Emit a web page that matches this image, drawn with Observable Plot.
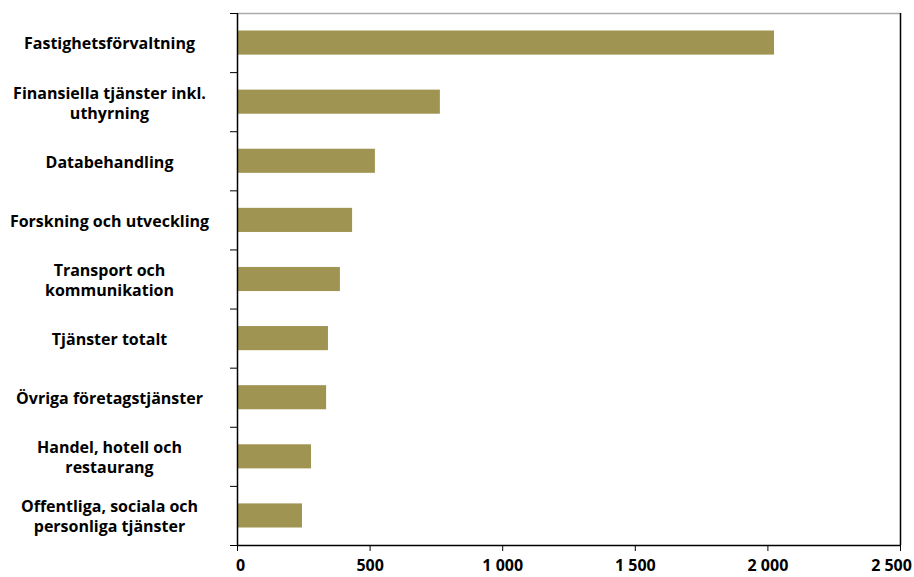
<!DOCTYPE html>
<html>
<head>
<meta charset="utf-8">
<script src="https://cdn.jsdelivr.net/npm/d3@7"></script>
<script src="https://cdn.jsdelivr.net/npm/@observablehq/plot@0.6"></script>
<style>
  html, body { margin: 0; padding: 0; background: #fff; }
  #chart svg { display: block; }
</style>
</head>
<body>
<div id="chart"></div>
<script>
const categories = [
  "Fastighetsförvaltning",
  "Finansiella tjänster inkl.\nuthyrning",
  "Databehandling",
  "Forskning och utveckling",
  "Transport och\nkommunikation",
  "Tjänster totalt",
  "Övriga företagstjänster",
  "Handel, hotell och\nrestaurang",
  "Offentliga, sociala och\npersonliga tjänster"
];
const values = [2025, 765, 520, 434, 388, 343, 336, 279, 245];
const xTicks = [0, 500, 1000, 1500, 2000, 2500];

const data = categories.map((c, i) => ({ label: c, value: values[i], i0: i, i1: i + 1, mid: i + 0.5 }));
const boundaries = d3.range(0, categories.length + 1);

const fmt = d => d3.format(",")(d).replace(/,/g, " ");
const font = "'Open Sans', 'Noto Sans', sans-serif";

const chart = Plot.plot({
  width: 914,
  height: 577,
  marginLeft: 237,
  marginRight: 14,
  marginTop: 13,
  marginBottom: 32,
  style: { fontFamily: font, fontWeight: "bold", fontSize: "16px", color: "#000", background: "#fff", overflow: "visible" },
  x: { domain: [0, 2500] },
  y: { domain: [0, categories.length], reverse: true },
  marks: [
    Plot.rectX(data, { x1: 0, x2: "value", y1: "i0", y2: "i1", insetTop: 17.5, insetBottom: 17.5, fill: "#a09452" }),
    Plot.ruleY([0], { stroke: "#aaaaaa", strokeWidth: 1.5 }),
    Plot.ruleX([2500], { stroke: "#000", strokeWidth: 1.5 }),
    Plot.ruleX([0], { stroke: "#000", strokeWidth: 1.5 }),
    Plot.ruleY([categories.length], { stroke: "#000", strokeWidth: 1.5 }),
    Plot.axisX({ ticks: xTicks, tickFormat: () => "", tickSize: 6, label: null, stroke: "#000" }),
    Plot.axisX({ ticks: xTicks.slice(0, 1), tickSize: 0, tickFormat: fmt, tickPadding: 14, dx: 3, label: null, fontSize: 16, fontWeight: "bold", fill: "#000" }),
    Plot.axisX({ ticks: xTicks.slice(1, -1), tickSize: 0, tickFormat: fmt, tickPadding: 14, label: null, fontSize: 16, fontWeight: "bold", fill: "#000" }),
    Plot.axisX({ ticks: xTicks.slice(-1), tickSize: 0, tickFormat: fmt, tickPadding: 14, dx: -9, label: null, fontSize: 16, fontWeight: "bold", fill: "#000" }),
    Plot.axisY({ ticks: boundaries, tickFormat: () => "", tickSize: 7, label: null, stroke: "#000" }),
    Plot.text(data, { x: 0, y: "mid", text: "label", dx: -128, textAnchor: "middle", lineHeight: 1.25, fontSize: 16, fontWeight: "bold", fill: "#000" })
  ]
});
document.getElementById("chart").appendChild(chart);
</script>
</body>
</html>
